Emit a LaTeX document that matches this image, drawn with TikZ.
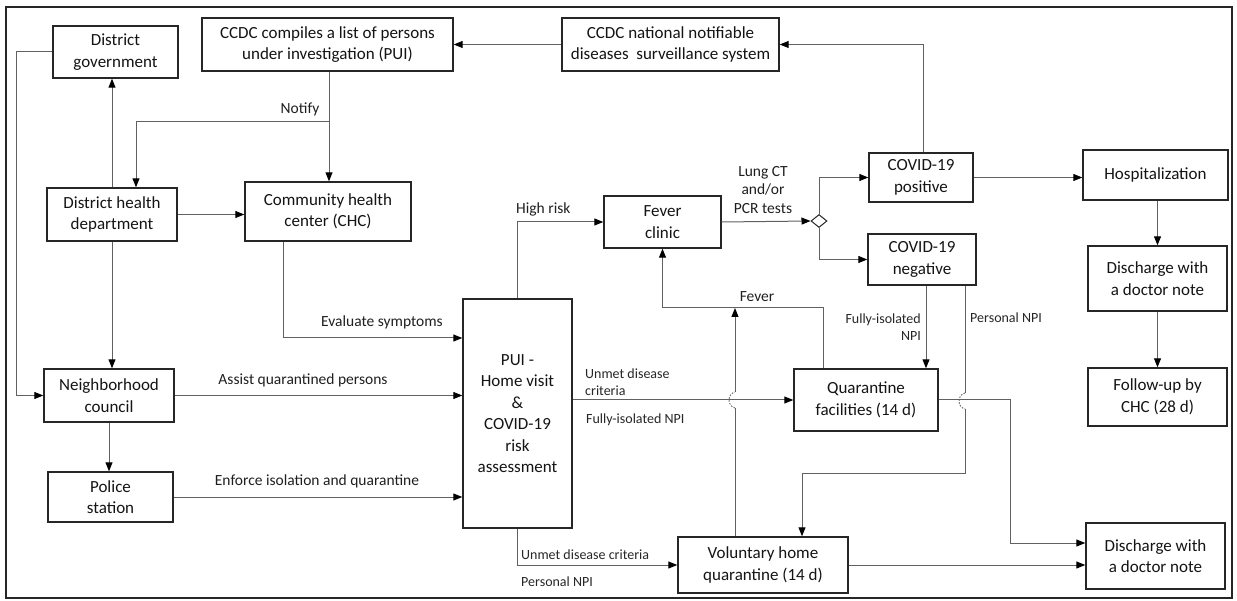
\documentclass[tikz,border=0pt]{standalone}
\usepackage{fontspec}
\setmainfont{Carlito}
\usetikzlibrary{arrows.meta,shapes.geometric}
\begin{document}
\begin{tikzpicture}[x=1pt,y=-1pt,
 box/.style={draw=black!85, line width=1.4pt, fill=white, inner sep=2pt, align=center, text=black!92, font=\fontsize{17}{21.5}\selectfont},
 conn/.style={draw=black!62, line width=1pt},
 arr/.style={conn, -{Triangle[length=9pt,width=7pt,color=black]}},
 lab/.style={text=black!88, font=\fontsize{15.5}{18.5}\selectfont, inner sep=0},
 slab/.style={text=black!85, font=\fontsize{14}{16.5}\selectfont, inner sep=0},
 jump/.style={draw=black!62, line width=0.9pt, dash pattern=on 1.5pt off 1.5pt}]
\useasboundingbox (0,0) rectangle (1237,601);
\draw[black!85, line width=1.2pt] (6,7) rectangle (1232,598);

% boxes
\node[box, minimum width=125, minimum height=52] (dg) at (115.5,52) {District\\government};
\node[box, minimum width=251, minimum height=53] (list) at (327.5,44.5) {CCDC compiles a list of persons\\under investigation (PUI)};
\node[box, minimum width=217, minimum height=53] (nndss) at (670.5,44.5) {CCDC national notifiable\\diseases\ \ surveillance system};
\node[box, minimum width=130, minimum height=53] (dhd) at (112,214.5) {District health\\department};
\node[box, minimum width=166, minimum height=59] (chc) at (328,211.5) {Community health\\center (CHC)};
\node[box, minimum width=130, minimum height=53] (nc) at (109,395.5) {Neighborhood\\council};
\node[box, minimum width=125, minimum height=50] (ps) at (110.5,497) {Police\\station};
\node[box, minimum width=109, minimum height=229] (pui) at (517.5,413.5) {PUI -\\Home visit\\\&\\COVID-19\\risk\\assessment};
\node[box, minimum width=117, minimum height=52] (fever) at (662.5,222) {Fever\\clinic};
\node[box, minimum width=104, minimum height=49] (pos) at (921,177.5) {COVID-19\\positive};
\node[box, minimum width=108, minimum height=51] (neg) at (922,259.5) {COVID-19\\negative};
\node[box, minimum width=145, minimum height=50] (hosp) at (1155.5,175) {Hospitalization};
\node[box, minimum width=139, minimum height=65] (dis1) at (1157.5,278.5) {Discharge with\\a doctor note};
\node[box, minimum width=139, minimum height=58] (fu) at (1157.5,397) {Follow-up by\\CHC (28 d)};
\node[box, minimum width=144, minimum height=62] (qf) at (866,400) {Quarantine\\facilities (14 d)};
\node[box, minimum width=170, minimum height=56] (vhq) at (763,565) {Voluntary home\\quarantine (14 d)};
\node[box, minimum width=139, minimum height=66] (dis2) at (1155.5,556) {Discharge with\\a doctor note};
\node[diamond, draw=black!85, line width=1pt, fill=white, minimum width=16, minimum height=13, inner sep=0] (dia) at (819,221) {};

% coordinates
\coordinate (c1) at (16,52);
\coordinate (n1) at (329,122);
\coordinate (ev) at (0,338);
\coordinate (fv) at (823,308);
\coordinate (pj1) at (965,393);
\coordinate (pj2) at (965,409);
\coordinate (pc) at (965,473);
\coordinate (vj1) at (735,408);
\coordinate (vj2) at (735,392);
\coordinate (qc) at (1010,400);
\coordinate (dc) at (0,543);

% connectors
\draw[arr] (nndss.west) -- (list.east);
\draw[arr] ([xshift=2]pos.north) |- (nndss.east);
\draw[arr] (list.south -| n1) -- (n1 |- chc.north);
\draw[arr] (n1) -| ([xshift=24]dhd.north);
\draw[arr] (dhd.north) -- (dhd.north |- dg.south);
\draw[arr] (dhd.east) -- (dhd.east -| chc.west);
\draw[arr] (dhd.south) -- (dhd.south |- nc.north);
\draw[arr] (dg.west) -- (c1) |- (nc.west);
\draw[arr] (nc.south) -- (nc.south |- ps.north);
\draw[arr] ([xshift=-45]chc.south) |- (pui.west |- ev);
\draw[arr] (nc.east) -- (nc.east -| pui.west);
\draw[arr] (ps.east) -- (ps.east -| pui.west);
\draw[arr] (pui.north) |- (fever.west);
\draw[arr] (fever.east) -- (dia.west);
\draw[arr] (dia.north) |- (pos.west);
\draw[arr] (dia.south) |- (neg.west);
\draw[arr] (pos.east) -- (pos.east -| hosp.west);
\draw[arr] (dis1.north |- hosp.south) -- (dis1.north);
\draw[arr] (dis1.south) -- (fu.north);
\draw[arr] ([xshift=4]neg.south) -- ([xshift=4]neg.south |- qf.north);
\draw[conn] ([xshift=43]neg.south) -- (pj1);
\draw[jump] (pj1) .. controls (957,395) and (957,407) .. (pj2);
\draw[arr] (pj2) -- (pc) -| ([xshift=39]vhq.north);
\draw[arr] (qf.east) -- (qc) |- (dis2.west |- dc);
\draw[arr] (vhq.east) -- (vhq.east -| dis2.west);
\draw[arr] (pui.east |- qf.west) -- (qf.west);
\draw[arr] (pui.south) |- (vhq.west);
\draw[arr] ([xshift=-43]qf.north) -- (fv) -| (fever.south);
\draw[conn] ([xshift=-28]vhq.north) -- (vj1);
\draw[jump] (vj1) .. controls (727,406) and (727,394) .. (vj2);
\draw[arr] (vj2) -- (vj2 |- fv);

% labels
\node[lab] (lnotify) at (300,109) {Notify};
\node[lab] (leval) at (382,322) {Evaluate symptoms};
\node[lab] (lassist) at (303,380) {Assist quarantined persons};
\node[lab] (lenforce) at (317,481) {Enforce isolation and quarantine};
\node[lab, anchor=west] (lhigh) at (516,209) {High risk};
\node[lab] (lfever) at (757,297) {Fever};
\node[lab, align=center] (llung) at (763,190) {Lung CT\\and/or\\PCR tests};
\node[slab, anchor=west, align=left] (lunmet1) at (585,382) {Unmet disease\\criteria};
\node[slab, anchor=west] (lfull1) at (586,420) {Fully-isolated NPI};
\node[slab, anchor=west] (lunmet2) at (521,555) {Unmet disease criteria};
\node[slab, anchor=west] (lpers2) at (521,582) {Personal NPI};
\node[slab, anchor=east, align=right] (lfull2) at (921,327) {Fully-isolated\\NPI};
\node[slab, anchor=west] (lpers1) at (970,318) {Personal NPI};
\end{tikzpicture}
\end{document}
